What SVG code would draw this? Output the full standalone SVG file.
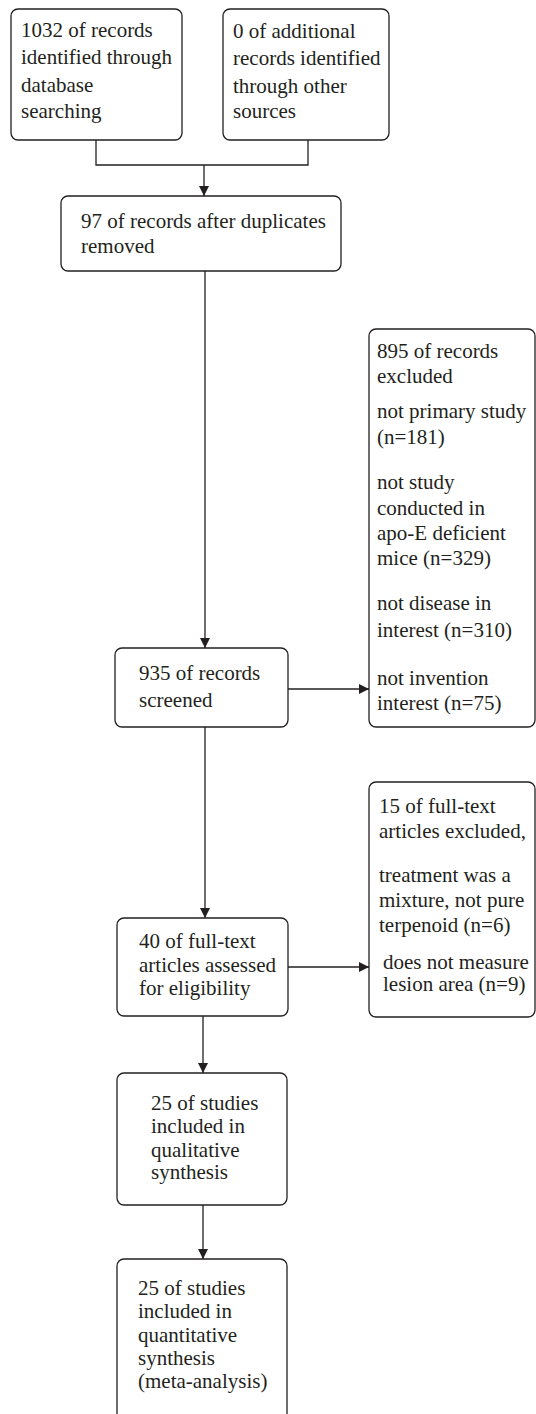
<svg xmlns="http://www.w3.org/2000/svg" width="536" height="1414" viewBox="0 0 536 1414">
<style>
  .box { fill: #ffffff; stroke: #231f20; stroke-width: 1.3; }
  .t { font-family: "Liberation Serif", "Times New Roman", serif; font-size: 21px; fill: #231f20; }
  .c { fill: none; stroke: #231f20; stroke-width: 1.3; }
</style>
<defs>
  <marker id="arr" viewBox="0 0 10 10" refX="10" refY="5" markerWidth="10" markerHeight="10" markerUnits="userSpaceOnUse" orient="auto">
    <path d="M0,0 L10,5 L0,10 Z" fill="#231f20"/>
  </marker>
</defs>
<rect width="536" height="1414" fill="#ffffff"/>

<g id="connectors">
  <polyline class="c" points="96,140 96,165 308,165 308,140"/>
  <line class="c" x1="204" y1="165" x2="204" y2="196" marker-end="url(#arr)"/>
  <line class="c" x1="205" y1="271" x2="205" y2="648" marker-end="url(#arr)"/>
  <line class="c" x1="288" y1="689" x2="369" y2="689" marker-end="url(#arr)"/>
  <line class="c" x1="205" y1="727" x2="205" y2="918" marker-end="url(#arr)"/>
  <line class="c" x1="288" y1="967" x2="369" y2="967" marker-end="url(#arr)"/>
  <line class="c" x1="203" y1="1016" x2="203" y2="1073" marker-end="url(#arr)"/>
  <line class="c" x1="203" y1="1205" x2="203" y2="1259" marker-end="url(#arr)"/>
</g>

<g id="n1">
  <rect class="box" x="11" y="9" width="171" height="131" rx="7"/>
  <text class="t" x="21" y="37">1032 of records</text>
  <text class="t" x="21" y="64">identified through</text>
  <text class="t" x="21" y="92">database</text>
  <text class="t" x="21" y="118">searching</text>
</g>

<g id="n2">
  <rect class="box" x="223" y="9" width="166" height="131" rx="7"/>
  <text class="t" x="233" y="38">0 of additional</text>
  <text class="t" x="233" y="65">records identified</text>
  <text class="t" x="233" y="93">through other</text>
  <text class="t" x="233" y="118">sources</text>
</g>

<g id="n3">
  <rect class="box" x="61" y="196" width="280" height="75" rx="7"/>
  <text class="t" x="81" y="228">97 of records after duplicates</text>
  <text class="t" x="81" y="253">removed</text>
</g>

<g id="n4">
  <rect class="box" x="115" y="648" width="173" height="79" rx="7"/>
  <text class="t" x="139" y="680">935 of records</text>
  <text class="t" x="139" y="707">screened</text>
</g>

<g id="n5">
  <rect class="box" x="369" y="329" width="166" height="398" rx="7"/>
  <text class="t" x="377" y="358">895 of records</text>
  <text class="t" x="377" y="383">excluded</text>
  <text class="t" x="377" y="418">not primary study</text>
  <text class="t" x="377" y="444">(n=181)</text>
  <text class="t" x="377" y="489">not study</text>
  <text class="t" x="377" y="515">conducted in</text>
  <text class="t" x="377" y="540">apo-E deficient</text>
  <text class="t" x="377" y="565">mice (n=329)</text>
  <text class="t" x="377" y="610">not disease in</text>
  <text class="t" x="377" y="637">interest (n=310)</text>
  <text class="t" x="377" y="685">not invention</text>
  <text class="t" x="377" y="710">interest (n=75)</text>
</g>

<g id="n6">
  <rect class="box" x="117" y="918" width="171" height="98" rx="7"/>
  <text class="t" x="139" y="948">40 of full-text</text>
  <text class="t" x="139" y="972">articles assessed</text>
  <text class="t" x="139" y="995">for eligibility</text>
</g>

<g id="n7">
  <rect class="box" x="369" y="782" width="166" height="235" rx="7"/>
  <text class="t" x="379" y="813">15 of full-text</text>
  <text class="t" x="379" y="838">articles excluded,</text>
  <text class="t" x="379" y="882">treatment was a</text>
  <text class="t" x="379" y="907">mixture, not pure</text>
  <text class="t" x="379" y="932">terpenoid (n=6)</text>
  <text class="t" x="383" y="969">does not measure</text>
  <text class="t" x="383" y="991">lesion area (n=9)</text>
</g>

<g id="n8">
  <rect class="box" x="117" y="1073" width="170" height="132" rx="7"/>
  <text class="t" x="151" y="1110">25 of studies</text>
  <text class="t" x="151" y="1133">included in</text>
  <text class="t" x="151" y="1157">qualitative</text>
  <text class="t" x="151" y="1179">synthesis</text>
</g>

<g id="n9">
  <rect class="box" x="117" y="1259" width="170" height="170" rx="7"/>
  <text class="t" x="138" y="1295">25 of studies</text>
  <text class="t" x="138" y="1318">included in</text>
  <text class="t" x="138" y="1342">quantitative</text>
  <text class="t" x="138" y="1365">synthesis</text>
  <text class="t" x="138" y="1388">(meta-analysis)</text>
</g>
</svg>
